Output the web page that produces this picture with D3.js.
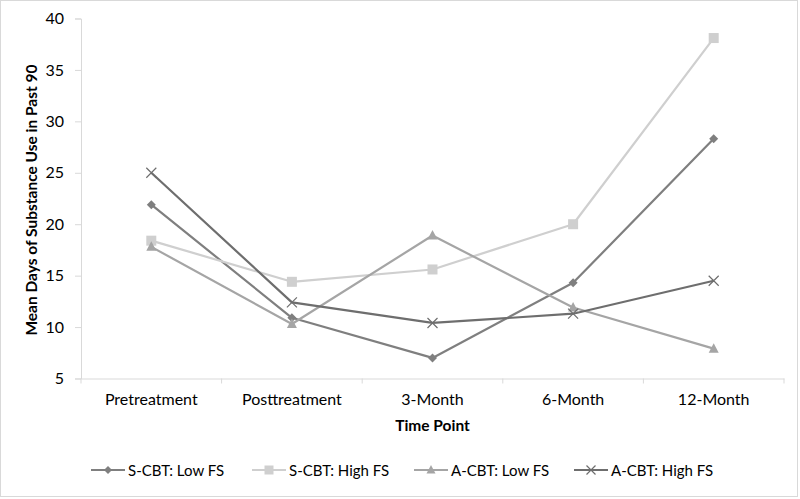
<!DOCTYPE html>
<html>
<head>
<meta charset="utf-8">
<script src="https://cdn.jsdelivr.net/npm/d3@7/dist/d3.min.js"></script>
<style>
  html, body { margin: 0; padding: 0; background: #fff; }
  svg { display: block; }
  text { font-family: Lato, "Open Sans", sans-serif; fill: #000; }
</style>
</head>
<body>
<svg id="chart" width="800" height="499"></svg>
<script>
const categories = ["Pretreatment", "Posttreatment", "3-Month", "6-Month", "12-Month"];
const seriesNames = ["S-CBT: Low FS", "S-CBT: High FS", "A-CBT: Low FS", "A-CBT: High FS"];
const sLow  = [21.9, 10.9, 7.0, 14.3, 28.3];
const sHigh = [18.4, 14.4, 15.6, 20.0, 38.1];
const aLow  = [17.8, 10.3, 18.9, 11.9, 7.9];
const aHigh = [25.0, 12.4, 10.4, 11.3, 14.5];
const yTicks = [5, 10, 15, 20, 25, 30, 35, 40];

const seriesColors = ["#7f7f7f", "#cfcfcf", "#a5a5a5", "#6e6e6e"];
const seriesMarkers = ["diamond", "square", "triangle", "x"];
const seriesValues = [sLow, sHigh, aLow, aHigh];

const svg = d3.select("#chart");
const W = 800, H = 499;
const mLeft = 81, mRight = 784, mTop = 18.5, mBottom = 378.5;

// outer border
svg.append("rect").attr("x", 0.5).attr("y", 0.5).attr("width", W - 3).attr("height", H - 3)
  .attr("fill", "#fff").attr("stroke", "#d9d9d9").attr("stroke-width", 1);

const x = d3.scaleBand().domain(categories).range([mLeft, mRight]);
const y = d3.scaleLinear().domain([5, 40]).range([mBottom, mTop]);

// y axis
const yAxis = svg.append("g").attr("transform", `translate(${mLeft},0)`)
  .call(d3.axisLeft(y).tickValues(yTicks).tickSize(6).tickPadding(11));
yAxis.select(".domain").attr("stroke", "#d9d9d9");
yAxis.selectAll(".tick line").attr("stroke", "#d9d9d9");
yAxis.selectAll("text").attr("font-size", 16).attr("fill", "#000")
  .style("font-family", "Lato, 'Open Sans', sans-serif");

// x axis
const xAxis = svg.append("g").attr("transform", `translate(0,${mBottom})`)
  .call(d3.axisBottom(x).tickSize(0).tickPadding(15));
xAxis.select(".domain").attr("stroke", "#d9d9d9");
xAxis.selectAll(".tick line").remove();
xAxis.selectAll("text").attr("font-size", 16).attr("fill", "#000")
  .style("font-family", "Lato, 'Open Sans', sans-serif");
// category separators
const seps = d3.range(categories.length + 1).map(i => mLeft + i * x.bandwidth());
svg.append("g").selectAll("line").data(seps).join("line")
  .attr("x1", d => d).attr("x2", d => d)
  .attr("y1", mBottom).attr("y2", mBottom + 5)
  .attr("stroke", "#d9d9d9");

// axis titles
svg.append("text").attr("x", (mLeft + mRight) / 2).attr("y", 431)
  .attr("text-anchor", "middle").attr("font-size", 15.5).attr("font-weight", "bold")
  .text("Time Point");
svg.append("text")
  .attr("transform", `translate(37,200) rotate(-90)`)
  .attr("text-anchor", "middle").attr("font-size", 15.5).attr("font-weight", "bold")
  .text("Mean Days of Substance Use in Past 90");

function drawMarker(g, type, color, cx, cy, s) {
  if (type === "diamond") {
    g.append("path").attr("d", `M${cx},${cy - s} L${cx + s},${cy} L${cx},${cy + s} L${cx - s},${cy} Z`)
      .attr("fill", color);
  } else if (type === "square") {
    g.append("rect").attr("x", cx - s).attr("y", cy - s).attr("width", 2 * s).attr("height", 2 * s)
      .attr("fill", color);
  } else if (type === "triangle") {
    g.append("path").attr("d", `M${cx},${cy - s - 1} L${cx + s + 0.5},${cy + s - 0.5} L${cx - s - 0.5},${cy + s - 0.5} Z`)
      .attr("fill", color);
  } else if (type === "x") {
    g.append("path").attr("d", `M${cx - s},${cy - s} L${cx + s},${cy + s} M${cx - s},${cy + s} L${cx + s},${cy - s}`)
      .attr("stroke", color).attr("stroke-width", 1.2).attr("fill", "none");
  }
}
const markerSize = { diamond: 4.5, square: 5, triangle: 4.5, x: 5 };

const line = d3.line().x((d, i) => x(categories[i]) + x.bandwidth() / 2).y(d => y(d));
const plot = svg.append("g");
seriesValues.forEach((vals, si) => {
  plot.append("path").datum(vals).attr("d", line)
    .attr("fill", "none").attr("stroke", seriesColors[si]).attr("stroke-width", 2.2)
    .attr("stroke-linejoin", "round");
});
seriesValues.forEach((vals, si) => {
  const g = plot.append("g");
  vals.forEach((v, i) => {
    drawMarker(g, seriesMarkers[si], seriesColors[si], x(categories[i]) + x.bandwidth() / 2, y(v), markerSize[seriesMarkers[si]]);
  });
});

// legend
const legendX = [91, 252, 414, 574];
const legendY = 470;
seriesNames.forEach((name, si) => {
  const g = svg.append("g");
  const lx = legendX[si];
  g.append("line").attr("x1", lx).attr("x2", lx + 34).attr("y1", legendY).attr("y2", legendY)
    .attr("stroke", seriesColors[si]).attr("stroke-width", 2.2);
  drawMarker(g, seriesMarkers[si], seriesColors[si], lx + 17, legendY, markerSize[seriesMarkers[si]] - 0.5);
  g.append("text").attr("x", lx + 37).attr("y", legendY + 5.5).attr("font-size", 15).text(name);
});
</script>
</body>
</html>
